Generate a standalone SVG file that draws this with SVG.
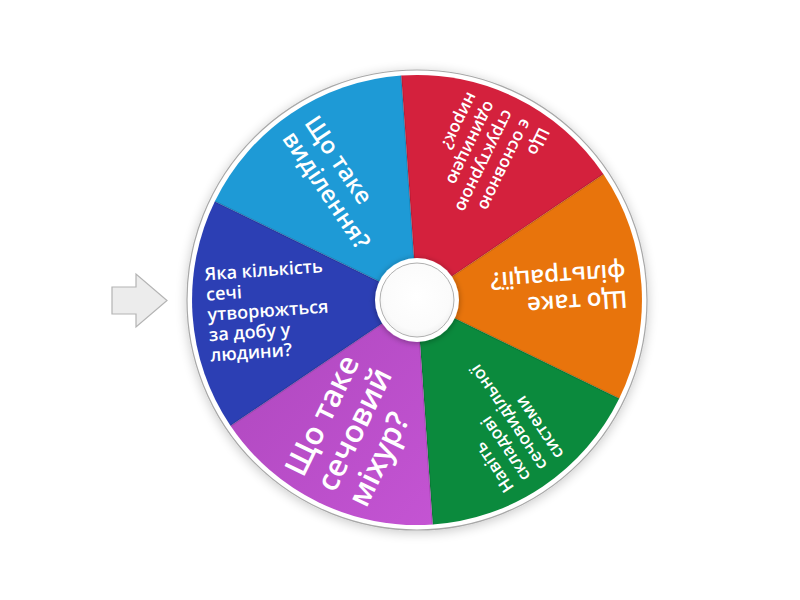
<svg xmlns="http://www.w3.org/2000/svg" width="800" height="600" viewBox="0 0 800 600">
<defs>
<filter id="sh" x="-20%" y="-20%" width="140%" height="140%">
<feGaussianBlur in="SourceAlpha" stdDeviation="6"/>
<feOffset dx="0" dy="2" result="b"/>
<feComponentTransfer><feFuncA type="linear" slope="0.22"/></feComponentTransfer>
<feMerge><feMergeNode/><feMergeNode in="SourceGraphic"/></feMerge>
</filter>
<filter id="hsh" x="-30%" y="-30%" width="160%" height="160%">
<feGaussianBlur in="SourceAlpha" stdDeviation="3"/>
<feOffset dx="0" dy="1"/>
<feComponentTransfer><feFuncA type="linear" slope="0.35"/></feComponentTransfer>
<feMerge><feMergeNode/><feMergeNode in="SourceGraphic"/></feMerge>
</filter>
<radialGradient id="hubg" cx="50%" cy="45%" r="60%">
<stop offset="0" stop-color="#ffffff"/>
<stop offset="0.75" stop-color="#fbfbfb"/>
<stop offset="1" stop-color="#ececec"/>
</radialGradient>
<linearGradient id="purg" x1="0" y1="0" x2="1" y2="1">
<stop offset="0" stop-color="#ad47bd"/>
<stop offset="1" stop-color="#c454d3"/>
</linearGradient>
</defs>
<style>
.seg-t{font-family:"Open Sans","Noto Sans","DejaVu Sans",sans-serif;font-weight:600;fill:#ffffff;}
.edge{stroke:#000;stroke-opacity:0.12;stroke-width:2;}
</style>
<rect width="800" height="600" fill="#ffffff"/>

<g id="pointer">
<path d="M112,287 L136,287 L136,274 L167,300.5 L136,327 L136,314 L112,314 Z" fill="#ececec" stroke="#b4b4b4" stroke-width="1.2" stroke-linejoin="miter"/>
</g>

<g id="wheel-rim">
<circle cx="417" cy="300" r="230" fill="#ffffff" stroke="#a8a8a8" stroke-width="1.2" filter="url(#sh)"/>
</g>

<g id="seg-lightblue">
<path d="M417,300 L214.8,201.4 A225,225 0 0 1 401.3,75.5 Z" fill="#1e9ad6"/>
<g transform="translate(417 300) rotate(56)">
<text class="seg-t" font-size="24" x="-210"><tspan x="-210" y="-5.1">Що таке</tspan><tspan x="-210" y="21.9">виділення?</tspan></text>
</g>
</g>

<g id="seg-red">
<path d="M417,300 L401.3,75.5 A225,225 0 0 1 603.5,174.2 Z" fill="#d4213d"/>
<g transform="translate(417 300) rotate(116)">
<text class="seg-t" font-size="17"><tspan x="-210" y="-34">Що</tspan><tspan x="-210" y="-14">є основною</tspan><tspan x="-210" y="6">структурною</tspan><tspan x="-210" y="26">одиницею</tspan><tspan x="-210" y="46">нирок?</tspan></text>
</g>
</g>

<g id="seg-orange">
<path d="M417,300 L603.5,174.2 A225,225 0 0 1 619.2,398.6 Z" fill="#e8740c"/>
<g transform="translate(417 300) rotate(176)">
<text class="seg-t" font-size="24"><tspan x="-210" y="-5.1">Що таке</tspan><tspan x="-210" y="21.9">фільтрації?</tspan></text>
</g>
</g>

<g id="seg-green">
<path d="M417,300 L619.2,398.6 A225,225 0 0 1 432.7,524.5 Z" fill="#0b8a3d"/>
<g transform="translate(417 300) rotate(236)">
<text class="seg-t" font-size="17"><tspan x="-210" y="-24">Навіть</tspan><tspan x="-210" y="-4">складові</tspan><tspan x="-210" y="16">сечовидільної</tspan><tspan x="-210" y="36">системи</tspan></text>
</g>
</g>

<g id="seg-purple">
<path d="M417,300 L432.7,524.5 A225,225 0 0 1 230.5,425.8 Z" fill="url(#purg)"/>
<g transform="translate(417 300) rotate(296)">
<text class="seg-t" font-size="31"><tspan x="-210" y="-24.1">Що таке</tspan><tspan x="-210" y="10.9">сечовий</tspan><tspan x="-210" y="45.9">міхур?</tspan></text>
</g>
</g>

<g id="seg-darkblue">
<path d="M417,300 L230.5,425.8 A225,225 0 0 1 214.8,201.4 Z" fill="#2c3fb4"/>
<g transform="translate(417 300) rotate(356)">
<text class="seg-t" font-size="18"><tspan x="-210" y="-34.3">Яка кількість</tspan><tspan x="-210" y="-14">сечі</tspan><tspan x="-210" y="6.3">утворюжться</tspan><tspan x="-210" y="26.6">за добу у</tspan><tspan x="-210" y="46.9">людини?</tspan></text>
</g>
</g>

<g id="spokes">
<line class="edge" x1="417" y1="300" x2="401.3" y2="75.5"/>
<line class="edge" x1="417" y1="300" x2="603.5" y2="174.2"/>
<line class="edge" x1="417" y1="300" x2="619.2" y2="398.6"/>
<line class="edge" x1="417" y1="300" x2="432.7" y2="524.5"/>
<line class="edge" x1="417" y1="300" x2="230.5" y2="425.8"/>
<line class="edge" x1="417" y1="300" x2="214.8" y2="201.4"/>
</g>

<g id="hub">
<circle cx="417" cy="300" r="42" fill="#ffffff" filter="url(#hsh)"/>
<circle cx="417" cy="300" r="37" fill="url(#hubg)" stroke="#b0b0b0" stroke-width="1"/>
</g>
</svg>
